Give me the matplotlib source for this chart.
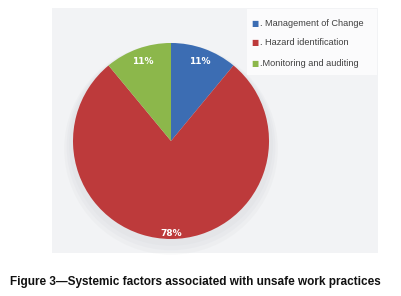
import matplotlib.pyplot as plt
from matplotlib.patches import Rectangle, Ellipse

labels = ['. Management of Change', '. Hazard identification', '.Monitoring and auditing']
values = [11, 78, 11]
colors = ['#3c6db3', '#bd3a3b', '#8cb74b']
caption = 'Figure 3\u2014Systemic factors associated with unsafe work practices'

fig = plt.figure(figsize=(4.02, 2.96), dpi=100)
fig.patch.set_facecolor('white')

# light grey panel behind the chart
fig.patches.append(Rectangle((0.129, 0.145), 0.811, 0.828, transform=fig.transFigure,
                             facecolor='#f2f3f5', edgecolor='none', zorder=-2))
# white legend box
fig.patches.append(Rectangle((0.615, 0.745), 0.322, 0.225, transform=fig.transFigure,
                             facecolor='#fbfbfc', edgecolor='none', zorder=-1))

ax = fig.add_axes([0.1816, 0.1926, 0.4876, 0.6622])
ax.set_zorder(1)
ax.patch.set_visible(False)
# soft shadow under the pie
for i in range(3):
    ax.add_patch(Ellipse((0, -0.04 - 0.02 * i), 2.08 + 0.05 * i, 2.06 + 0.05 * i,
                         facecolor='#9a9ea6', edgecolor='none', alpha=0.05, zorder=0,
                         clip_on=False))
wedges, texts, autotexts = ax.pie(values, colors=colors, startangle=90, counterclock=False,
                                  autopct='%d%%', pctdistance=0.86,
                                  wedgeprops=dict(linewidth=0),
                                  textprops=dict(color='white', fontsize=6.5, fontweight='bold',
                                                 family='DejaVu Sans'))
for w in wedges:
    w.set_zorder(2)
for t in autotexts:
    t.set_zorder(3)
autotexts[1].set_position((0, -0.94))
ax.set_xlim(-1, 1)
ax.set_ylim(-1, 1)
ax.axis('off')

# legend entries
ys = [0.922, 0.855, 0.787]
for lab, col, y in zip(labels, colors, ys):
    fig.text(0.634, y, '\u25A0', color=col, fontsize=5.5, va='center', ha='center')
    fig.text(0.646, y, lab, color='#404040', fontsize=6.6, va='center', ha='left',
             family='Liberation Sans')

fig.text(0.026, 0.047, caption, fontsize=8.5, fontweight='bold', color='#111111',
         ha='left', va='center', family='Liberation Sans')

fig.savefig('out.png', dpi=100)
